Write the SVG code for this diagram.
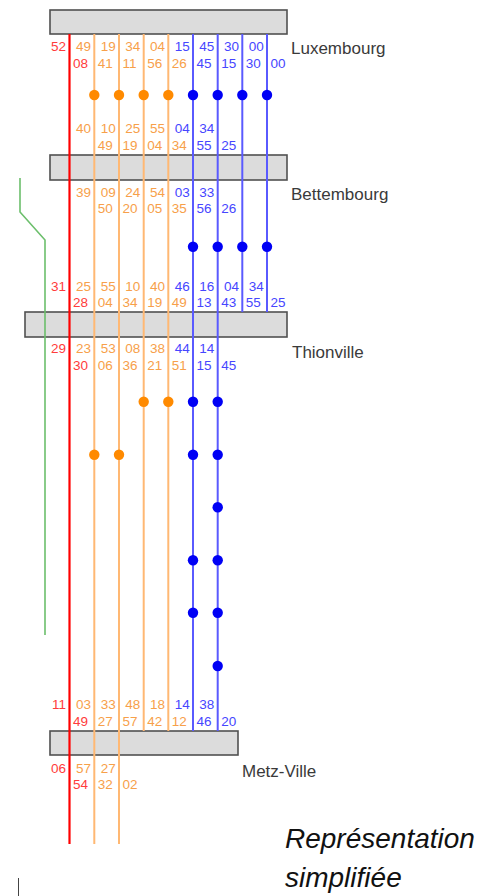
<svg xmlns="http://www.w3.org/2000/svg" width="487" height="896" viewBox="0 0 487 896">
<style>
.box{fill:#dcdcdc;stroke:#505050;stroke-width:1.6}
.stn{font-family:"Liberation Sans",Arial,sans-serif;font-size:17px;fill:#3a3a3a}
.t{font-family:"Liberation Sans",Arial,sans-serif;font-size:13.5px}
.l{text-anchor:end}
.r{text-anchor:start}
.cr{fill:#ff3c3c}
.co{fill:#f7a04a}
.cb{fill:#4646ff}
.lr{stroke:#ff0000;stroke-width:2.2;fill:none}
.lo{stroke:#ffb873;stroke-width:2;fill:none}
.lb{stroke:#5a5aff;stroke-width:2;fill:none}
.lg{stroke:#6cbf6c;stroke-width:1.6;fill:none}
.do{fill:#ff8a00}
.db{fill:#0000f5}
.note{font-family:"Liberation Sans",Arial,sans-serif;font-size:28px;font-style:italic;fill:#111}
</style>
<rect width="487" height="896" fill="#ffffff"/>
<g id="station-luxembourg">
<rect class="box" x="50" y="10" width="237" height="24"/>
<text class="stn" x="291" y="54">Luxembourg</text>
</g>
<g id="station-bettembourg">
<rect class="box" x="50" y="155" width="237" height="25"/>
<text class="stn" x="291" y="200">Bettembourg</text>
</g>
<g id="station-thionville">
<rect class="box" x="25" y="312" width="262" height="25"/>
<text class="stn" x="292" y="358">Thionville</text>
</g>
<g id="station-metz-ville">
<rect class="box" x="50" y="731" width="188" height="24"/>
<text class="stn" x="242" y="777">Metz-Ville</text>
</g>
<g id="connectors">
<path class="lg" d="M20 178 V212 L45 240 V635"/>
<line class="lr" x1="69.5" y1="34" x2="69.5" y2="844"/>
<line class="lo" x1="94.3" y1="34" x2="94.3" y2="844"/>
<line class="lo" x1="119" y1="34" x2="119" y2="844"/>
<line class="lo" x1="143.7" y1="34" x2="143.7" y2="731"/>
<line class="lo" x1="168.3" y1="34" x2="168.3" y2="731"/>
<line class="lb" x1="193" y1="34" x2="193" y2="731"/>
<line class="lb" x1="217.7" y1="34" x2="217.7" y2="731"/>
<line class="lb" x1="242.3" y1="34" x2="242.3" y2="312"/>
<line class="lb" x1="267" y1="34" x2="267" y2="312"/>
</g>
<g id="stops">
<circle class="do" cx="94.3" cy="95" r="5.2"/>
<circle class="do" cx="119" cy="95" r="5.2"/>
<circle class="do" cx="143.7" cy="95" r="5.2"/>
<circle class="do" cx="168.3" cy="95" r="5.2"/>
<circle class="db" cx="193" cy="95" r="5.2"/>
<circle class="db" cx="217.7" cy="95" r="5.2"/>
<circle class="db" cx="242.3" cy="95" r="5.2"/>
<circle class="db" cx="267" cy="95" r="5.2"/>
<circle class="db" cx="193" cy="246.7" r="5.2"/>
<circle class="db" cx="217.7" cy="246.7" r="5.2"/>
<circle class="db" cx="242.3" cy="246.7" r="5.2"/>
<circle class="db" cx="267" cy="246.7" r="5.2"/>
<circle class="do" cx="143.7" cy="401.7" r="5.2"/>
<circle class="do" cx="168.3" cy="401.7" r="5.2"/>
<circle class="db" cx="193" cy="401.7" r="5.2"/>
<circle class="db" cx="217.7" cy="401.7" r="5.2"/>
<circle class="do" cx="94.3" cy="454.7" r="5.2"/>
<circle class="do" cx="119" cy="454.7" r="5.2"/>
<circle class="db" cx="193" cy="454.7" r="5.2"/>
<circle class="db" cx="217.7" cy="454.7" r="5.2"/>
<circle class="db" cx="217.7" cy="507.3" r="5.2"/>
<circle class="db" cx="193" cy="560.3" r="5.2"/>
<circle class="db" cx="217.7" cy="560.3" r="5.2"/>
<circle class="db" cx="193" cy="612.7" r="5.2"/>
<circle class="db" cx="217.7" cy="612.7" r="5.2"/>
<circle class="db" cx="217.7" cy="666" r="5.2"/>
</g>
<g id="times-luxembourg" class="t">
<text class="l cr" x="66" y="51">52</text>
<text class="l co" x="91" y="51">49</text>
<text class="l co" x="115.7" y="51">19</text>
<text class="l co" x="140.4" y="51">34</text>
<text class="l co" x="165" y="51">04</text>
<text class="l cb" x="189.7" y="51">15</text>
<text class="l cb" x="214.4" y="51">45</text>
<text class="l cb" x="239" y="51">30</text>
<text class="l cb" x="263.7" y="51">00</text>
<text class="r cr" x="73" y="67.5">08</text>
<text class="r co" x="97.8" y="67.5">41</text>
<text class="r co" x="122.5" y="67.5">11</text>
<text class="r co" x="147.2" y="67.5">56</text>
<text class="r co" x="171.8" y="67.5">26</text>
<text class="r cb" x="196.5" y="67.5">45</text>
<text class="r cb" x="221.2" y="67.5">15</text>
<text class="r cb" x="245.8" y="67.5">30</text>
<text class="r cb" x="270.5" y="67.5">00</text>
</g>
<g id="times-bettembourg" class="t">
<text class="l co" x="91" y="133.3">40</text>
<text class="l co" x="115.7" y="133.3">10</text>
<text class="l co" x="140.4" y="133.3">25</text>
<text class="l co" x="165" y="133.3">55</text>
<text class="l cb" x="189.7" y="133.3">04</text>
<text class="l cb" x="214.4" y="133.3">34</text>
<text class="r co" x="97.8" y="150">49</text>
<text class="r co" x="122.5" y="150">19</text>
<text class="r co" x="147.2" y="150">04</text>
<text class="r co" x="171.8" y="150">34</text>
<text class="r cb" x="196.5" y="150">55</text>
<text class="r cb" x="221.2" y="150">25</text>
<text class="l co" x="91" y="196.7">39</text>
<text class="l co" x="115.7" y="196.7">09</text>
<text class="l co" x="140.4" y="196.7">24</text>
<text class="l co" x="165" y="196.7">54</text>
<text class="l cb" x="189.7" y="196.7">03</text>
<text class="l cb" x="214.4" y="196.7">33</text>
<text class="r co" x="97.8" y="213.3">50</text>
<text class="r co" x="122.5" y="213.3">20</text>
<text class="r co" x="147.2" y="213.3">05</text>
<text class="r co" x="171.8" y="213.3">35</text>
<text class="r cb" x="196.5" y="213.3">56</text>
<text class="r cb" x="221.2" y="213.3">26</text>
</g>
<g id="times-thionville" class="t">
<text class="l cr" x="66" y="290.5">31</text>
<text class="l co" x="91" y="290.5">25</text>
<text class="l co" x="115.7" y="290.5">55</text>
<text class="l co" x="140.4" y="290.5">10</text>
<text class="l co" x="165" y="290.5">40</text>
<text class="l cb" x="189.7" y="290.5">46</text>
<text class="l cb" x="214.4" y="290.5">16</text>
<text class="l cb" x="239" y="290.5">04</text>
<text class="l cb" x="263.7" y="290.5">34</text>
<text class="r cr" x="73" y="306.7">28</text>
<text class="r co" x="97.8" y="306.7">04</text>
<text class="r co" x="122.5" y="306.7">34</text>
<text class="r co" x="147.2" y="306.7">19</text>
<text class="r co" x="171.8" y="306.7">49</text>
<text class="r cb" x="196.5" y="306.7">13</text>
<text class="r cb" x="221.2" y="306.7">43</text>
<text class="r cb" x="245.8" y="306.7">55</text>
<text class="r cb" x="270.5" y="306.7">25</text>
<text class="l cr" x="66" y="353.3">29</text>
<text class="l co" x="91" y="353.3">23</text>
<text class="l co" x="115.7" y="353.3">53</text>
<text class="l co" x="140.4" y="353.3">08</text>
<text class="l co" x="165" y="353.3">38</text>
<text class="l cb" x="189.7" y="353.3">44</text>
<text class="l cb" x="214.4" y="353.3">14</text>
<text class="r cr" x="73" y="370">30</text>
<text class="r co" x="97.8" y="370">06</text>
<text class="r co" x="122.5" y="370">36</text>
<text class="r co" x="147.2" y="370">21</text>
<text class="r co" x="171.8" y="370">51</text>
<text class="r cb" x="196.5" y="370">15</text>
<text class="r cb" x="221.2" y="370">45</text>
</g>
<g id="times-metz-ville" class="t">
<text class="l cr" x="66" y="709.3">11</text>
<text class="l co" x="91" y="709.3">03</text>
<text class="l co" x="115.7" y="709.3">33</text>
<text class="l co" x="140.4" y="709.3">48</text>
<text class="l co" x="165" y="709.3">18</text>
<text class="l cb" x="189.7" y="709.3">14</text>
<text class="l cb" x="214.4" y="709.3">38</text>
<text class="r cr" x="73" y="726">49</text>
<text class="r co" x="97.8" y="726">27</text>
<text class="r co" x="122.5" y="726">57</text>
<text class="r co" x="147.2" y="726">42</text>
<text class="r co" x="171.8" y="726">12</text>
<text class="r cb" x="196.5" y="726">46</text>
<text class="r cb" x="221.2" y="726">20</text>
<text class="l cr" x="66" y="772.7">06</text>
<text class="l co" x="91" y="772.7">57</text>
<text class="l co" x="115.7" y="772.7">27</text>
<text class="r cr" x="73" y="789.3">54</text>
<text class="r co" x="97.8" y="789.3">32</text>
<text class="r co" x="122.5" y="789.3">02</text>
</g>
<g id="caption">
<text class="note" x="285" y="848">Représentation</text>
<text class="note" x="285" y="887">simplifiée</text>
</g>
<line x1="18.5" y1="878" x2="18.5" y2="896" stroke="#444" stroke-width="1"/>
</svg>
